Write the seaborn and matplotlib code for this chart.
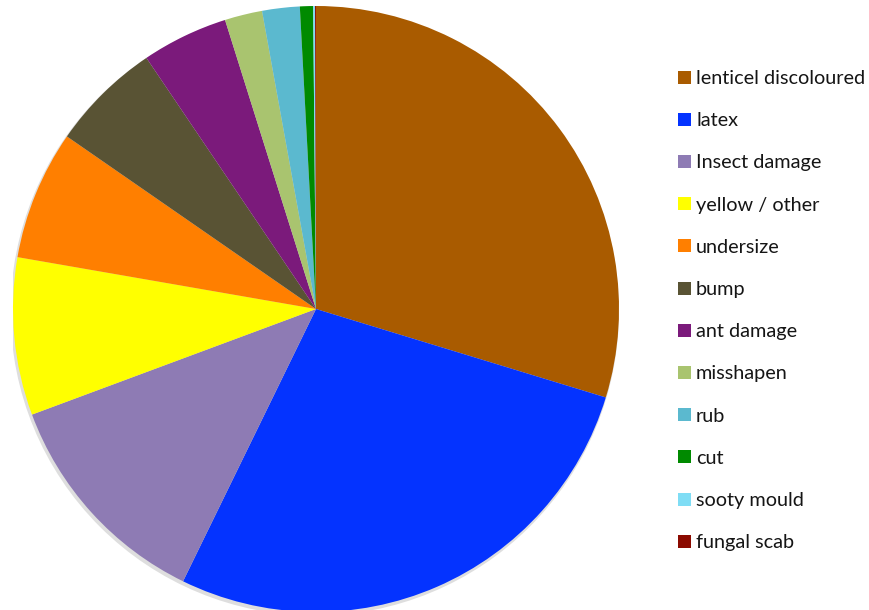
import matplotlib
matplotlib.use("Agg")
import matplotlib.pyplot as plt
from matplotlib.patches import Circle, Rectangle
import seaborn as sns

# Share of rejected fruit by defect category (%)
categories = [
    "lenticel discoloured", "latex", "Insect damage", "yellow / other",
    "undersize", "bump", "ant damage", "misshapen", "rub", "cut",
    "sooty mould", "fungal scab",
]
shares = [29.7, 27.5, 12.1, 8.4, 6.9, 5.9, 4.6, 2.0, 2.0, 0.7, 0.1, 0.05]
colors = [
    "#A95B00", "#0433FF", "#8E7BB4", "#FFFF00", "#FF7F00", "#595334",
    "#7B1A7B", "#A9C46F", "#5BB9CF", "#008A00", "#7FDDF5", "#8B0A00",
]

sns.set_theme(style="white")
plt.rcParams["font.family"] = ["Lato", "DejaVu Sans"]

W, H = 870, 610
fig = plt.figure(figsize=(W / 100, H / 100), dpi=100)
fig.patch.set_facecolor("white")

cx, cy, r = 316, 309, 303
ax = fig.add_axes([(cx - r) / W, (H - cy - r) / H, 2 * r / W, 2 * r / H])

# soft drop shadow behind the pie
ax.add_patch(Circle((-0.004, -0.008), 1.004, color="#c8c8c8", alpha=0.6, zorder=0, lw=0))

ax.pie(shares, colors=colors, startangle=90, counterclock=False,
       wedgeprops=dict(linewidth=0), radius=1.0)
ax.set_xlim(-1, 1)
ax.set_ylim(-1, 1)
ax.set_aspect("equal")
ax.axis("off")

# legend column on the right: swatch + label per category
x_box, box = 678, 13
x_text = 696
y0, pitch = 84, 42.2
for i, (name, col) in enumerate(zip(categories, colors)):
    base = y0 + i * pitch
    fig.patches.append(Rectangle((x_box / W, 1 - (base - 0.5) / H), box / W, box / H,
                                 transform=fig.transFigure, facecolor=col,
                                 edgecolor="none"))
    fig.text(x_text / W, 1 - base / H, name, ha="left", va="baseline",
             fontsize=14.3, color="#151515")

fig.savefig("out.png", dpi=100, facecolor="white")
